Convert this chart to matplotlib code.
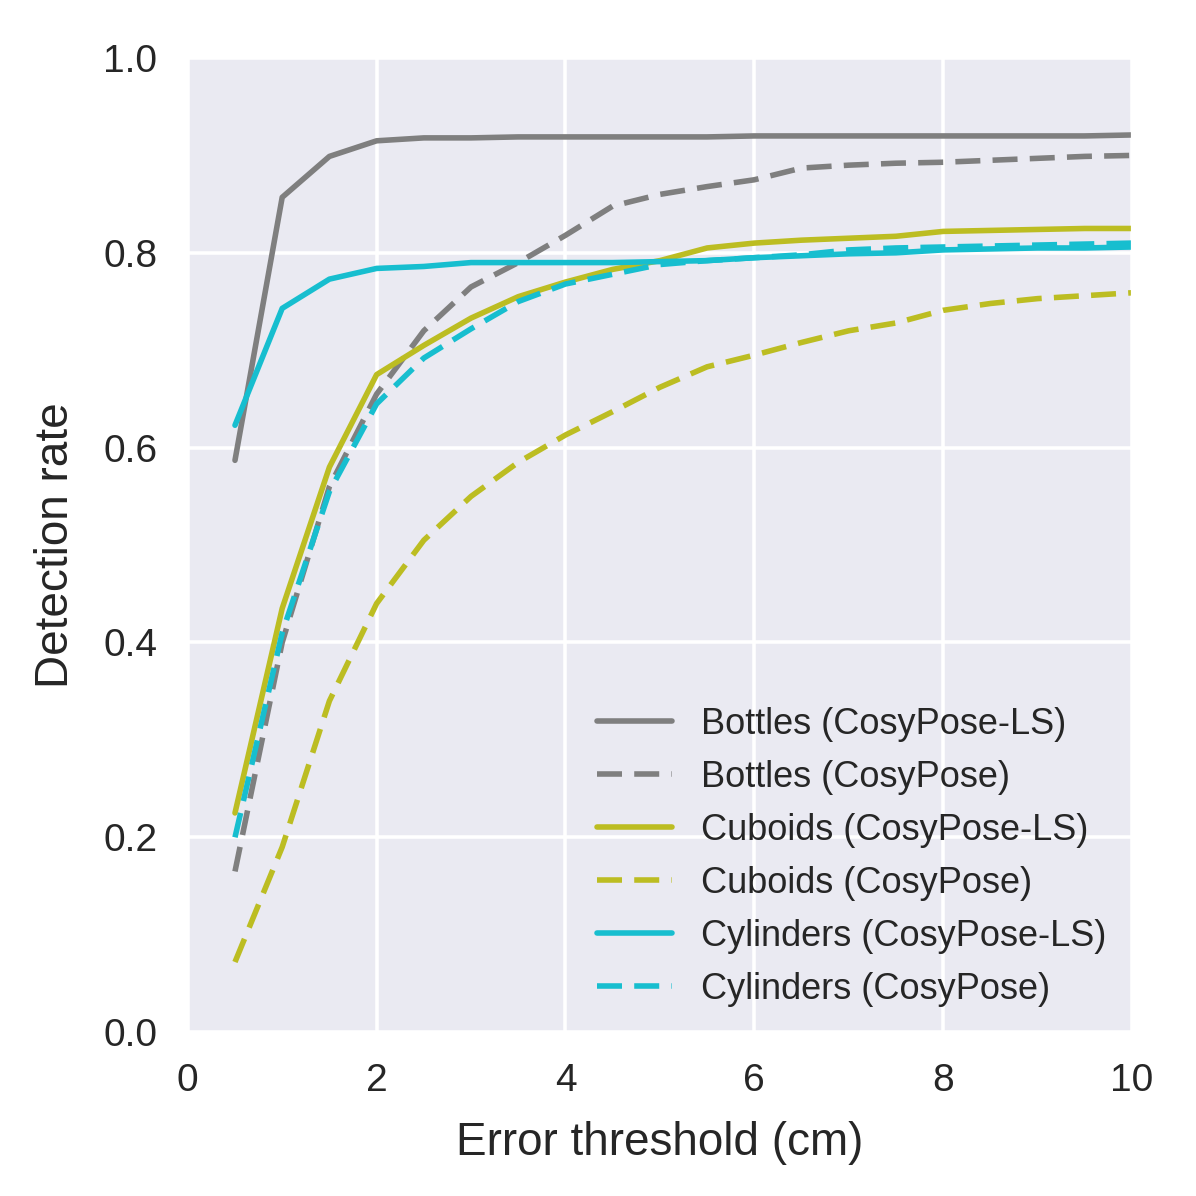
import numpy as np
import seaborn as sns
from matplotlib import pyplot as plt

# error thresholds (cm)
thresholds = [0.5, 1.0, 1.5, 2.0, 2.5, 3.0, 3.5, 4.0, 4.5, 5.0,
              5.5, 6.0, 6.5, 7.0, 7.5, 8.0, 8.5, 9.0, 9.5, 10.0]

bottles_ls = [0.587, 0.857, 0.899, 0.915, 0.918, 0.918, 0.919, 0.919, 0.919, 0.919,
              0.919, 0.920, 0.920, 0.920, 0.920, 0.920, 0.920, 0.920, 0.920, 0.921]
bottles_cp = [0.165, 0.400, 0.560, 0.655, 0.720, 0.765, 0.790, 0.818, 0.848, 0.860,
              0.868, 0.875, 0.887, 0.890, 0.892, 0.893, 0.895, 0.897, 0.899, 0.900]
cuboids_ls = [0.225, 0.435, 0.580, 0.675, 0.705, 0.733, 0.755, 0.770, 0.783, 0.792,
              0.805, 0.810, 0.813, 0.815, 0.817, 0.822, 0.823, 0.824, 0.825, 0.825]
cuboids_cp = [0.072, 0.190, 0.340, 0.440, 0.505, 0.550, 0.585, 0.613, 0.637, 0.662,
              0.683, 0.695, 0.708, 0.720, 0.728, 0.741, 0.748, 0.753, 0.756, 0.759]
cylinders_ls = [0.623, 0.743, 0.773, 0.784, 0.786, 0.790, 0.790, 0.790, 0.790, 0.791,
                0.792, 0.795, 0.797, 0.799, 0.800, 0.803, 0.804, 0.805, 0.805, 0.806]
cylinders_cp = [0.200, 0.410, 0.555, 0.645, 0.692, 0.722, 0.750, 0.768, 0.778, 0.788,
                0.792, 0.795, 0.798, 0.803, 0.805, 0.806, 0.807, 0.808, 0.809, 0.810]

series = [
    ("Bottles (CosyPose-LS)", bottles_ls, "#7f7f7f", "-"),
    ("Bottles (CosyPose)", bottles_cp, "#7f7f7f", "--"),
    ("Cuboids (CosyPose-LS)", cuboids_ls, "#bcbd22", "-"),
    ("Cuboids (CosyPose)", cuboids_cp, "#bcbd22", "--"),
    ("Cylinders (CosyPose-LS)", cylinders_ls, "#17becf", "-"),
    ("Cylinders (CosyPose)", cylinders_cp, "#17becf", "--"),
]

sns.set_style("darkgrid")
plt.rcParams['font.family'] = ['Liberation Sans', 'DejaVu Sans']

fig = plt.figure(figsize=(5.98, 5.98), dpi=200)
ax = fig.add_axes([0.157, 0.137, 0.7895, 0.8145])
ax.grid(linewidth=1.3)

for label, vals, col, ls in series:
    line, = ax.plot(thresholds, vals, color=col, linestyle=ls, linewidth=2.0, label=label)
    if ls == "--":
        line.set_dashes((4.5, 2.2))

ax.set_xlim(0, 10)
ax.set_ylim(0, 1.0)
ax.set_xticks([0, 2, 4, 6, 8, 10])
ax.set_yticks([0.0, 0.2, 0.4, 0.6, 0.8, 1.0])
ax.tick_params(labelsize=14, colors="#262626", pad=7.5)
ax.set_xlabel("Error threshold (cm)", fontsize=16.5, color="#262626", labelpad=8)
ax.set_ylabel("Detection rate", fontsize=16.5, color="#262626", labelpad=9)

ax.legend(loc="lower right", fontsize=13, frameon=False, labelspacing=0.5,
          handlelength=2.1, borderaxespad=0.3)

fig.savefig("out.png", dpi=200)
